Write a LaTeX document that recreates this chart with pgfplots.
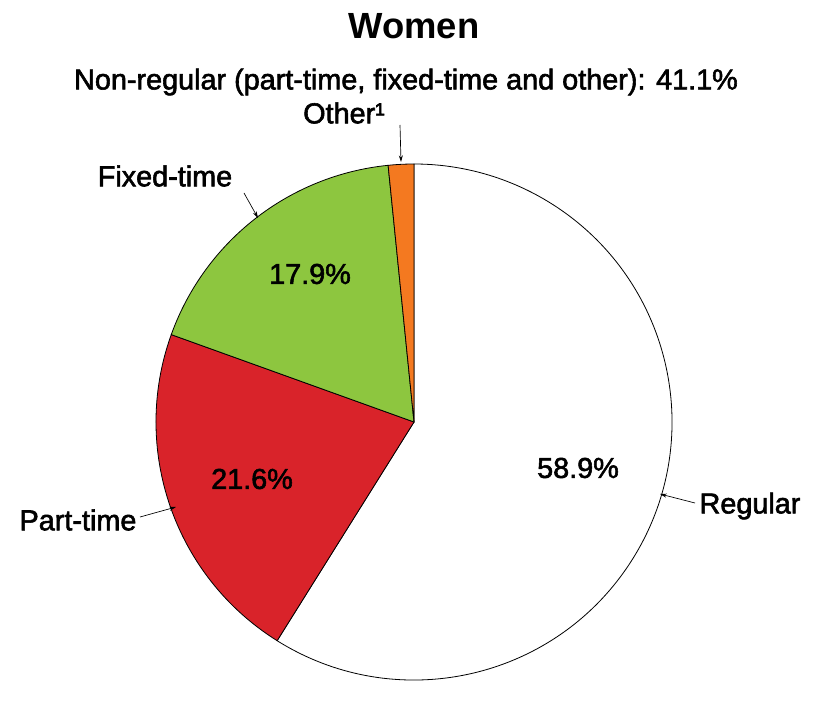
\documentclass[border=0pt]{standalone}
\usepackage{pgfplots}
\usepackage{pgfplotstable}
\pgfplotsset{compat=1.18}
\usetikzlibrary{arrows.meta}
\usepackage{fontspec}
\setmainfont{Liberation Sans}
\newfontfamily\heavy{Liberation Sans}[FakeBold=2]
\definecolor{cPart}{HTML}{D9232A}
\definecolor{cFixed}{HTML}{8DC63F}
\definecolor{cOther}{HTML}{F47920}

\pgfplotstableread{
label value
Regular 58.9
Part-time 21.6
Fixed-time 17.9
Other 1.6
}\piedata

\pgfplotstablegetelem{0}{value}\of\piedata \let\vA\pgfplotsretval
\pgfplotstablegetelem{1}{value}\of\piedata \let\vB\pgfplotsretval
\pgfplotstablegetelem{2}{value}\of\piedata \let\vC\pgfplotsretval
\pgfplotstablegetelem{3}{value}\of\piedata \let\vD\pgfplotsretval
\pgfmathsetmacro\aA{90}
\pgfmathsetmacro\aB{\aA-3.6*\vA}
\pgfmathsetmacro\aC{\aB-3.6*\vB}
\pgfmathsetmacro\aD{\aC-3.6*\vC}
\pgfmathsetmacro\aE{\aD-3.6*\vD}

\begin{document}
\begin{tikzpicture}
\begin{axis}[
  x=0.75pt, y=0.75pt,
  xmin=0, xmax=817, ymin=0, ymax=684,
  hide axis, clip=false,
]
\def\cx{414}\def\cy{262}\def\R{258}
% Regular
\filldraw[fill=white, draw=black, line width=0.6pt]
  (axis cs:\cx,\cy) -- (axis cs:{\cx+\R*cos(\aB)},{\cy+\R*sin(\aB)})
  arc[start angle=\aB, end angle=\aA, radius=\R] -- cycle;
% Part-time
\filldraw[fill=cPart, draw=black, line width=0.6pt]
  (axis cs:\cx,\cy) -- (axis cs:{\cx+\R*cos(\aC)},{\cy+\R*sin(\aC)})
  arc[start angle=\aC, end angle=\aB, radius=\R] -- cycle;
% Fixed-time
\filldraw[fill=cFixed, draw=black, line width=0.6pt]
  (axis cs:\cx,\cy) -- (axis cs:{\cx+\R*cos(\aD)},{\cy+\R*sin(\aD)})
  arc[start angle=\aD, end angle=\aC, radius=\R] -- cycle;
% Other
\filldraw[fill=cOther, draw=black, line width=0.6pt]
  (axis cs:\cx,\cy) -- (axis cs:{\cx+\R*cos(\aE)},{\cy+\R*sin(\aE)})
  arc[start angle=\aE, end angle=\aD, radius=\R] -- cycle;

\tikzset{lab/.style={font=\fontsize{21.6}{25}\selectfont\heavy}}
\node[font=\fontsize{27.3}{30}\selectfont\bfseries] at (axis cs:414,658) {Women};
\node[lab] at (axis cs:406,602) {Non-regular (part-time, fixed-time and other): 41.1\%};
\node[lab] at (axis cs:344,571) {Other¹};
\node[lab] at (axis cs:165,508) {Fixed-time};
\node[lab] at (axis cs:78,164) {Part-time};
\node[lab] at (axis cs:750,178) {Regular};
\node[lab] at (axis cs:310,410) {17.9\%};
\node[lab] at (axis cs:252,205) {21.6\%};
\node[lab] at (axis cs:578,216) {58.9\%};

\draw[-{Stealth[length=5pt,width=3pt]}, line width=0.5pt] (axis cs:400,559) -- (axis cs:401,522);
\draw[-{Stealth[length=5pt,width=3pt]}, line width=0.5pt] (axis cs:244,491) -- (axis cs:258,466);
\draw[-{Stealth[length=5pt,width=3pt]}, line width=0.5pt] (axis cs:140,167) -- (axis cs:176,177);
\draw[-{Stealth[length=5pt,width=3pt]}, line width=0.5pt] (axis cs:695,181) -- (axis cs:660,190);

\coordinate (ll) at (axis cs:0,0);
\coordinate (ur) at (axis cs:817,684);
\end{axis}
\useasboundingbox (ll) rectangle (ur);
\end{tikzpicture}
\end{document}
